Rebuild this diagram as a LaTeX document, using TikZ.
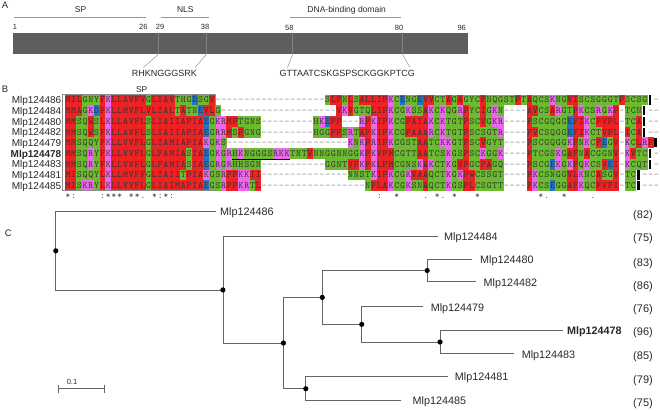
\documentclass[tikz,border=0pt]{standalone}
\usepackage{fontspec}
\setmainfont{Liberation Sans}
\definecolor{cred}{RGB}{236,34,36}
\definecolor{cgrn}{RGB}{108,186,48}
\definecolor{cmag}{RGB}{236,104,236}
\definecolor{cblu}{RGB}{36,118,196}
\definecolor{barg}{RGB}{94,94,94}
\definecolor{treeg}{RGB}{100,100,100}
\definecolor{lineg}{RGB}{150,150,150}
\definecolor{txt}{RGB}{40,40,40}

\newcount\alcol
\def\resfill#1#2{%
  \fill[#1] (\alX-2.95,\alY-5.4) rectangle (\alX+2.95,\alY+5.4);
  \node[res] (a\alR c\the\alcol) at (\alX,\alY) {#2};}
\def\defres#1#2{\expandafter\def\csname alc#1\endcsname{\resfill{#2}{#1}}}
\defres{A}{cred}\defres{V}{cred}\defres{F}{cred}\defres{P}{cred}
\defres{M}{cred}\defres{I}{cred}\defres{L}{cred}\defres{W}{cred}
\defres{S}{cgrn}\defres{T}{cgrn}\defres{Y}{cgrn}\defres{H}{cgrn}
\defres{C}{cgrn}\defres{N}{cgrn}\defres{G}{cgrn}\defres{Q}{cgrn}
\defres{K}{cmag}\defres{R}{cmag}\defres{D}{cblu}\defres{E}{cblu}
\expandafter\def\csname alc-\endcsname{\node[gapch] (a\alR c\the\alcol) at (\alX,\alY) {-};}
\expandafter\def\csname alc|\endcsname{\fill[black] (\alX-2.0,\alY-4.6) rectangle (\alX+0.6,\alY+4.6);}
\def\alparse#1{\ifx\relax#1\else
  \global\advance\alcol by 1\relax
  \pgfmathsetmacro\alX{65+(\the\alcol-0.5)*5.77}%
  \csname alc#1\endcsname
  \expandafter\alparse\fi}
\def\alseg#1#2#3#4{\def\alR{#1}\def\alY{#2}\global\alcol=#3\relax
  \global\advance\alcol by -1\relax\alparse#4\relax}
\def\algap#1#2#3#4{\foreach \k in {#3,...,#4}{%
  \pgfmathsetmacro\gx{65+(\k-0.5)*5.77}%
  \node[gapch] (a#1g\k) at (\gx,#2) {-};}}

\begin{document}
\begin{tikzpicture}[x=1pt,y=-1pt,
  res/.style={inner sep=0pt,text height=5.8pt,text depth=0pt,font=\ttfamily\fontsize{9.5}{10}\selectfont,text=black!80},
  gapch/.style={inner sep=0pt,text height=5.8pt,text depth=0pt,font=\ttfamily\fontsize{9.5}{10}\selectfont,text=black!45},
  cons/.style={inner sep=0pt,anchor=base,font=\ttfamily\fontsize{9}{10}\selectfont,text=black!75},
  blbl/.style={inner sep=0pt,anchor=base east,font=\fontsize{10}{12}\selectfont,text=txt},
  tlbl/.style={inner sep=0pt,anchor=base west,font=\fontsize{10.8}{12}\selectfont,text=txt},
  pnum/.style={inner sep=0pt,anchor=base,font=\fontsize{11}{12}\selectfont,text=txt},
  plbl/.style={inner sep=0pt,anchor=base west,font=\fontsize{9.5}{10}\selectfont,text=txt},
  anum/.style={inner sep=0pt,anchor=base,font=\fontsize{7.5}{9}\selectfont,text=txt},
  reglbl/.style={inner sep=0pt,anchor=base,font=\fontsize{8.5}{10}\selectfont,text=txt},
  seqlbl/.style={inner sep=0pt,anchor=base,font=\fontsize{9}{10}\selectfont,text=txt},
  regline/.style={draw=lineg,line width=0.6pt},
  markline/.style={draw=lineg,line width=0.5pt},
  tree/.style={draw=treeg,line width=0.8pt},
  dot/.style={circle,fill=black,inner sep=0pt,minimum size=5.2pt}]
\useasboundingbox (0,0) rectangle (660,410);

% ---------------- Panel A ----------------
\node[plbl] (pA) at (1.7,8.6) {A};
\node[fill=barg,inner sep=0pt,minimum width=455pt,minimum height=21.7pt,anchor=north west] (bar) at (12.7,32.3) {};
\coordinate (sp1) at (14,17.3); \coordinate (sp2) at (145.7,17.3);
\coordinate (nl1) at (160.7,17.3); \coordinate (nl2) at (209.3,17.3);
\coordinate (db1) at (290,17.3); \coordinate (db2) at (400.7,17.3);
\draw[regline] (sp1) -- (sp2);
\draw[regline] (nl1) -- (nl2);
\draw[regline] (db1) -- (db2);
\node[reglbl] (tSP) at (80.5,12.7) {SP};
\node[reglbl] (tNLS) at (185.3,12.7) {NLS};
\node[reglbl] (tDNA) at (346.7,12.7) {DNA-binding domain};
\node[anum,anchor=base west] (n1) at (12.7,29.6) {1};
\node[anum] (n26) at (143.3,29.6) {26};
\node[anum] (n29) at (160,29.6) {29};
\node[anum] (n38) at (205,29.6) {38};
\node[anum] (n58) at (289.3,30.8) {58};
\node[anum] (n80) at (399,30.8) {80};
\node[anum] (n96) at (461.7,30.8) {96};
\coordinate (m29t) at (158.7,32.3); \coordinate (m29b) at (158.7,54); \coordinate (m29e) at (143.5,67.5);
\coordinate (m38t) at (206.7,32.3); \coordinate (m38b) at (206.7,54); \coordinate (m38e) at (195,67.5);
\coordinate (m58t) at (292.7,32.3); \coordinate (m58b) at (292.7,54); \coordinate (m58e) at (287.5,67.5);
\coordinate (m80t) at (402.3,32.3); \coordinate (m80b) at (402.3,54); \coordinate (m80e) at (410,67.5);
\draw[markline] (m29t) -- (m29b) -- (m29e);
\draw[markline] (m38t) -- (m38b) -- (m38e);
\draw[markline] (m58t) -- (m58b) -- (m58e);
\draw[markline] (m80t) -- (m80b) -- (m80e);
\node[seqlbl] (nlsseq) at (164.3,76) {RHKNGGGSRK};
\node[seqlbl] (dbdseq) at (347.3,76) {GTTAATCSKGSPSCKGGKPTCG};

% ---------------- Panel B ----------------
\node[plbl] (pB) at (1.7,92.6) {B};
\node[reglbl] (bSP) at (141.7,92.7) {SP};
\node[blbl] (b1) at (61.5,103.6) {Mlp124486};
\node[blbl] (b2) at (61.5,114.3) {Mlp124484};
\node[blbl] (b3) at (61.5,125.0) {Mlp124480};
\node[blbl] (b4) at (61.5,135.7) {Mlp124482};
\node[blbl] (b5) at (61.5,146.4) {Mlp124479};
\node[blbl,font=\bfseries\fontsize{10}{12}\selectfont] (b6) at (61.5,157.1) {Mlp124478};
\node[blbl] (b7) at (61.5,167.8) {Mlp124483};
\node[blbl] (b8) at (61.5,178.5) {Mlp124481};
\node[blbl] (b9) at (61.5,189.2) {Mlp124485};

\alseg{1}{100}{1}{MILGNYFKLLAVFVGLIAVTHGDSGV}
\algap{1}{100}{27}{45}
\alseg{1}{100}{46}{SLPNLSALLIPKCENGEVVCTAGAGYCFNQGSTPTAQCSKNGVISCSGGGTPSCSG|}
\algap{1}{100}{103}{103}

\alseg{2}{110.7}{1}{MMAGKDFKLLMVFLVLIALTATNEVLG}
\algap{2}{110.7}{28}{47}
\alseg{2}{110.7}{48}{VKVGTQLIPKCGKSSAKCKQGRPYCIGKN----AVCSARGTPKCSRGKP-TCN|}
\algap{2}{110.7}{102}{103}

\alseg{3}{121.4}{1}{MMSQWSLKLLAVFLSLIAIIAPIAEGKRMPTGNS}
\algap{3}{121.4}{35}{43}
\alseg{3}{121.4}{44}{HKEPP---RPKIPKCGPAIAKCKTGTPSCVGKR----PSCGQGGEFIKCPVPL-TCA|}
\algap{3}{121.4}{102}{103}

\alseg{4}{132.1}{1}{MMSQWSFKLLAVFLSLIAIIAPIAEGRRMSPGNG}
\algap{4}{132.1}{35}{43}
\alseg{4}{132.1}{44}{HGGPPSRTAPKIPKCGPAAARCKTGTPSCSGTR----PVCSQGGEFIKCTVPL-ICA|}
\algap{4}{132.1}{102}{103}

\alseg{5}{142.8}{1}{MMSQQYFKLLVVFLGLIAMIAPIAKGKS}
\algap{5}{142.8}{29}{49}
\alseg{5}{142.8}{50}{KNKPRIPKCGSTAATCKKGTPSCVGYT----PSCGQGGKFNKCPEGV-KCLRF|}

\alseg{6}{153.5}{1}{MMSQRYFKLLVVFLGLFAMIASIAEGKGRHKNGGGSRKKTNTVNNGGNNGGKPKVPMCGTTAATCSKGSPSCKGGK----PTCGSKGAFNACGGNV-KVTC|}
\algap{6}{153.5}{103}{103}

\alseg{7}{164.2}{1}{MMSQRYFKLLVVFLGLFAMIASIAEGRGRHHSGN}
\algap{7}{164.2}{35}{45}
\alseg{7}{164.2}{46}{GGNTVPKPKLPMCGNSKAKCTKGVPGCPAGQ----PSCGEKGKFQKCSVEI-KCQT|}
\algap{7}{164.2}{103}{103}

\alseg{8}{174.9}{1}{MISQQYLKLLMVFFGLIAIITPIAKGSRPPKKII}
\algap{8}{174.9}{35}{49}
\alseg{8}{174.9}{50}{NNSTKIPKCGKVAAQCTKGKPWCSSGT----PKCSNGGVLKNCASGV-TC|}
\algap{8}{174.9}{101}{103}

\alseg{9}{185.6}{1}{MISKRYLKLLVVFLGLIAIMAPIAEGSRPPKRTL}
\algap{9}{185.6}{35}{52}
\alseg{9}{185.6}{53}{NPLAKCGKSNAQCTKGSPLCSGTT----PKCSEGGAFKQCPVPI-TC|}
\algap{9}{185.6}{101}{103}

\coordinate (box1) at (62.7,94.7); \coordinate (box2) at (215.3,190.8);
\draw[draw=black!45,line width=0.7pt] (box1) rectangle (box2);
\coordinate (ul1) at (232,158.9); \coordinate (ul2) at (290,158.9);
\draw[black,line width=0.8pt] (ul1) -- (ul2);

\foreach \c/\s in {1/*,2/:,7/:,8/*,9/*,10/*,12/*,13/*,14/.,16/*,17/:,18/*,19/:,
  55/:,58/*,63/.,65/*,66/.,68/*,72/*,83/*,84/.,87/*,92/.}{
  \node[cons] (cs\c) at ({65+(\c-0.5)*5.77},198.5) {\s};}

% ---------------- Panel C ----------------
\node[plbl] (pC) at (4.6,236.7) {C};
\coordinate (root) at (55.8,250.8);
\coordinate (na) at (222.9,289.9);
\coordinate (nb) at (283.4,343.05);
\coordinate (nc) at (322.3,297.4);
\coordinate (nd) at (427.2,270.5);
\coordinate (ne) at (361.7,324.35);
\coordinate (nf) at (440,342);
\coordinate (ng) at (305.8,388.7);
\coordinate (t86) at (215.7,211.7);
\coordinate (t84) at (437.8,236.7);
\coordinate (t80) at (471.7,259.3);
\coordinate (t82) at (475.9,281.7);
\coordinate (t79) at (423,306.7);
\coordinate (t78) at (562.6,330.7);
\coordinate (t83) at (514,353.3);
\coordinate (t81) at (448.4,376.7);
\coordinate (t85) at (401,400.7);
\draw[tree] (root) |- (t86);
\draw[tree] (root) |- (na);
\draw[tree] (na) |- (t84);
\draw[tree] (na) |- (nb);
\draw[tree] (nb) |- (nc);
\draw[tree] (nb) |- (ng);
\draw[tree] (nc) |- (nd);
\draw[tree] (nc) |- (ne);
\draw[tree] (nd) |- (t80);
\draw[tree] (nd) |- (t82);
\draw[tree] (ne) |- (t79);
\draw[tree] (ne) |- (nf);
\draw[tree] (nf) |- (t78);
\draw[tree] (nf) |- (t83);
\draw[tree] (ng) |- (t81);
\draw[tree] (ng) |- (t85);
\foreach \n in {root,na,nb,nc,nd,ne,nf,ng}{\node[dot] (d\n) at (\n) {};}

\node[tlbl] (l86) at (220,215.5) {Mlp124486};
\node[tlbl] (l84) at (444,240.5) {Mlp124484};
\node[tlbl] (l80) at (480,263.6) {Mlp124480};
\node[tlbl] (l82) at (483.5,286.5) {Mlp124482};
\node[tlbl] (l79) at (430.6,311) {Mlp124479};
\node[tlbl,font=\bfseries\fontsize{10.8}{12}\selectfont] (l78) at (566.8,334.5) {Mlp124478};
\node[tlbl] (l83) at (521.6,358) {Mlp124483};
\node[tlbl] (l81) at (454.7,380) {Mlp124481};
\node[tlbl] (l85) at (412.4,404.5) {Mlp124485};

\node[pnum] (p86) at (643,218.9) {(82)};
\node[pnum] (p84) at (643,241.6) {(75)};
\node[pnum] (p80) at (643,266.6) {(83)};
\node[pnum] (p82) at (643,289.6) {(86)};
\node[pnum] (p79) at (643,312.2) {(76)};
\node[pnum] (p78) at (643,335.2) {(96)};
\node[pnum] (p83) at (643,359.6) {(85)};
\node[pnum] (p81) at (643,383.2) {(79)};
\node[pnum] (p85) at (643,406.2) {(75)};

\coordinate (sb1) at (58.4,388.7); \coordinate (sb2) at (104.5,388.7);
\coordinate (sb1t) at (58.4,384.5); \coordinate (sb1b) at (58.4,392.7);
\coordinate (sb2t) at (104.5,384.5); \coordinate (sb2b) at (104.5,392.7);
\draw[tree] (sb1) -- (sb2);
\draw[tree] (sb1t) -- (sb1b);
\draw[tree] (sb2t) -- (sb2b);
\node[anum] (sbl) at (72,384) {0.1};
\end{tikzpicture}
\end{document}
